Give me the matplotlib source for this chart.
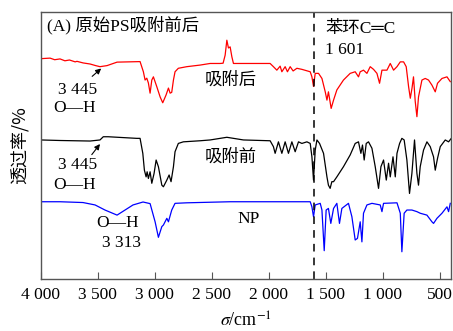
import numpy as np
import matplotlib
matplotlib.use("Agg")
import matplotlib.pyplot as plt

plt.rcParams['font.family'] = ['Liberation Serif', 'Noto Sans CJK SC']
plt.rcParams['mathtext.fontset'] = 'stix'

# spectra: wavenumber (cm-1) and transmittance (offset, a.u.)
red_wn = [4000, 3920, 3880, 3833, 3790, 3750, 3700, 3684, 3630, 3569, 3520, 3482, 3420, 3332,
          3130, 3101, 3086, 3071, 3057, 3042, 3027, 3013, 2983, 2954, 2931, 2902, 2881, 2866,
          2852, 2837, 2823, 2794, 2720, 2603, 2515, 2427, 2401, 2383, 2368, 2354, 2339, 2324,
          2310, 1988, 1959, 1929, 1900, 1885, 1856, 1836, 1812, 1786, 1753, 1709, 1636, 1621,
          1607, 1592, 1563, 1533, 1504, 1489, 1476, 1452, 1431, 1402, 1344, 1285, 1241, 1212,
          1197, 1168, 1138, 1109, 1080, 1050, 1027, 1006, 962, 933, 904, 874, 845, 816, 793,
          772, 757, 742, 729, 714, 699, 685, 655, 626, 597, 567, 538, 518, 479, 435, 406]
red_t = [82.4, 82.6, 82.0, 82.3, 81.6, 81.9, 81.2, 81.4, 80.8, 80.4, 79.8, 79.4, 79.8, 81.1,
         81.3, 77.5, 74.4, 75.1, 73.3, 69.5, 74.4, 75.6, 71.9, 68.1, 65.9, 68.8, 71.4, 69.5,
         69.8, 74.4, 77.5, 78.8, 79.4, 80.0, 80.6, 80.6, 80.7, 83.7, 89.3, 86.4, 86.8, 83.1,
         80.6, 80.6, 79.4, 78.1, 79.6, 77.5, 79.4, 77.5, 79.4, 77.8, 78.8, 78.4, 77.5, 75.6,
         72.0, 76.9, 76.9, 75.0, 70.0, 66.9, 70.0, 63.8, 66.9, 70.7, 74.4, 76.9, 77.5, 75.6,
         77.5, 78.1, 76.9, 79.4, 78.4, 76.9, 73.2, 78.1, 78.1, 80.6, 78.1, 79.4, 81.2, 81.2, 79.4,
         71.9, 67.6, 71.4, 75.6, 66.5, 60.7, 68.1, 74.4, 75.0, 74.4, 72.5, 70.0, 73.2, 75.0, 75.6, 73.8]

black_wn = [4000, 3833, 3569, 3482, 3453, 3409, 3159, 3130, 3106, 3092, 3077, 3068, 3057, 3042,
            3027, 3007, 2989, 2969, 2939, 2925, 2895, 2875, 2858, 2837, 2823, 2794, 2750, 2603,
            2515, 2427, 2368, 2222, 1988, 1959, 1944, 1915, 1885, 1856, 1827, 1797, 1768, 1739,
            1709, 1665, 1636, 1621, 1607, 1592, 1577, 1554, 1519, 1489, 1476, 1461, 1446, 1431,
            1402, 1344, 1285, 1241, 1212, 1191, 1177, 1162, 1144, 1124, 1094, 1065, 1036, 1015,
            992, 968, 948, 933, 909, 889, 874, 851, 831, 811, 787, 764, 743, 720, 699, 685, 670,
            641, 611, 582, 553, 538, 518, 494, 450, 421, 397]
black_t = [52.0, 51.8, 51.6, 52.0, 53.2, 53.2, 52.6, 52.6, 47.0, 40.7, 38.2, 40.1, 37.6, 40.1,
           35.8, 39.5, 44.5, 42.0, 35.1, 34.5, 37.0, 38.9, 36.4, 42.0, 47.6, 50.7, 51.3, 51.7,
           52.0, 52.6, 53.0, 52.0, 51.7, 49.5, 47.0, 51.3, 47.0, 51.3, 47.0, 51.3, 47.6, 51.3,
           50.7, 51.3, 50.7, 45.7, 37.0, 48.2, 52.0, 50.7, 47.0, 38.2, 35.1, 33.9, 36.4, 36.4,
           38.2, 42.0, 46.4, 50.7, 51.3, 47.0, 50.1, 44.5, 50.7, 51.3, 48.9, 42.0, 33.9, 42.0,
           44.5, 37.0, 43.3, 38.2, 45.7, 38.2, 47.0, 50.7, 52.6, 52.0, 44.5, 32.0, 39.5, 52.0,
           39.5, 35.1, 42.0, 48.2, 51.3, 49.5, 45.7, 40.7, 45.1, 49.5, 52.0, 51.3, 52.6]

blue_wn = [4000, 3833, 3631, 3525, 3438, 3332, 3262, 3192, 3104, 3042, 2998, 2969, 2939, 2925,
           2895, 2881, 2852, 2823, 2720, 2339, 1636, 1621, 1607, 1592, 1548, 1533, 1513, 1496,
           1476, 1455, 1431, 1402, 1379, 1358, 1300, 1270, 1241, 1221, 1197, 1182, 1168, 1138,
           1094, 1021, 1006, 992, 874, 845, 831, 811, 787, 743, 699, 670, 611, 567, 553, 523,
           479, 435, 421, 406]
blue_t = [28.9, 28.9, 28.6, 27.7, 25.8, 23.9, 25.8, 27.7, 28.8, 28.2, 21.4, 15.6, 19.6, 20.2,
          22.7, 21.4, 25.8, 28.3, 28.5, 28.9, 28.9, 27.0, 23.3, 27.7, 28.3, 25.8, 10.6, 25.8,
          26.4, 20.8, 26.4, 28.3, 20.8, 26.4, 28.3, 23.3, 14.6, 15.2, 21.4, 13.9, 24.6, 27.7,
          28.3, 27.7, 25.2, 28.3, 28.5, 24.6, 10.2, 24.6, 25.8, 25.8, 25.2, 24.6, 23.9, 21.4,
          20.8, 22.7, 24.6, 27.0, 25.2, 28.3]

xticks = [4000, 3500, 3000, 2500, 2000, 1500, 1000, 500]
xticklabels = ['4 000', '3 500', '3 000', '2 500', '2 000', '1 500', '1 000', '500']
cc_peak = 1601

fig = plt.figure(figsize=(4.53, 3.31), dpi=100)
ax = fig.add_axes([0.0905, 0.157, 0.905, 0.808])

ax.plot(red_wn, red_t, color='#ff0000', lw=0.9)
ax.plot(black_wn, black_t, color='black', lw=0.9)
ax.plot(blue_wn, blue_t, color='#0000ff', lw=0.9)
ax.axvline(cc_peak, color='black', lw=1.1, ls=(0, (5, 4)))

ax.set_xlim(4000, 400)
ax.set_ylim(0, 100)
ax.set_xticks(xticks)
ax.set_xticklabels(xticklabels, fontsize=12.5)
ax.set_yticks([])
ax.tick_params(axis='x', direction='in', length=5, color='#555555', pad=6)
for s in ax.spines.values():
    s.set_color('#555555')
    s.set_linewidth(1.0)

ax.set_xlabel(r'$\sigma$/cm$^{-1}$', fontsize=13, labelpad=6)
ax.set_ylabel('透过率/%', fontsize=13, family=['Noto Sans CJK SC'], labelpad=8)

fs = 12.5
ax.text(3947, 95.0, '(A) 原始PS吸附前后', fontsize=fs, va='center')
ax.text(2559, 74.4, '吸附后', fontsize=fs, va='center')
ax.text(2559, 45.6, '吸附前', fontsize=fs, va='center')
ax.text(2278, 22.4, 'NP', fontsize=fs, va='center')
ax.text(3851, 70.8, '3 445', fontsize=fs, va='center')
ax.text(3895, 63.9, 'O—H', fontsize=fs, va='center')
ax.text(3851, 42.6, '3 445', fontsize=fs, va='center')
ax.text(3895, 35.1, 'O—H', fontsize=fs, va='center')
ax.text(3517, 20.9, 'O—H', fontsize=fs, va='center')
ax.text(3464, 13.5, '3 313', fontsize=fs, va='center')
ax.text(1505, 93.5, '苯环C═C', fontsize=fs, va='center')
ax.text(1505, 85.6, '1 601', fontsize=fs, va='center')

arrow = dict(arrowstyle='-|>', lw=0.8, color='black', mutation_scale=8)
ax.annotate('', xy=(3453, 79.4), xytext=(3569, 75.1), arrowprops=arrow)
ax.annotate('', xy=(3467, 51.3), xytext=(3569, 45.7), arrowprops=arrow)

fig.savefig('out.png', dpi=100)
